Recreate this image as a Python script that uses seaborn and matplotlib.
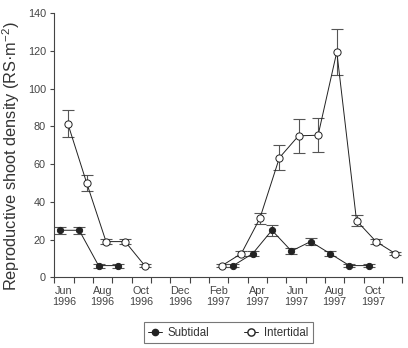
import numpy as np
import pandas as pd
import seaborn as sns
import matplotlib.pyplot as plt
from matplotlib import font_manager
from matplotlib.lines import Line2D

# Sampling dates and densities (RS per m2)
sub_dates = ['1996-06-10', '1996-07-10', '1996-08-10', '1996-09-10',
             '1997-03-09', '1997-04-09', '1997-05-09', '1997-06-09',
             '1997-07-09', '1997-08-09', '1997-09-09', '1997-10-09']
sub_vals = [25, 25, 6.3, 6.3, 6.3, 12.7, 25, 14, 19, 12.7, 6.3, 6.3]
sub_err = [1.8, 1.8, 1.1, 1.1, 1.0, 1.1, 2.8, 1.4, 1.8, 1.1, 0.8, 0.8]
sub_seg = [0, 0, 0, 0, 1, 1, 1, 1, 1, 1, 1, 1]

int_dates = ['1996-06-22', '1996-07-22', '1996-08-22', '1996-09-21', '1996-10-22',
             '1997-02-20', '1997-03-22', '1997-04-20', '1997-05-21', '1997-06-20',
             '1997-07-21', '1997-08-20', '1997-09-20', '1997-10-21', '1997-11-20']
int_vals = [81.5, 50, 19, 19, 6.3, 6.3, 12.7, 31.3, 63.4, 75, 75.3, 119.4, 30.1, 19, 12.7]
int_err = [7.1, 4, 1.4, 1.2, 1.0, 1.0, 1.5, 2.8, 6.5, 9, 9, 12, 3, 1.5, 1.0]
int_seg = [0, 0, 0, 0, 0, 1, 1, 1, 1, 1, 1, 1, 1, 1, 1]

tick_labels = ['Jun\n1996', 'Aug\n1996', 'Oct\n1996', 'Dec\n1996', 'Feb\n1997',
               'Apr\n1997', 'Jun\n1997', 'Aug\n1997', 'Oct\n1997']


def month_pos(dates):
    d = pd.to_datetime(pd.Series(dates))
    return ((d.dt.year - 1996) * 12 + d.dt.month - 6 + (d.dt.day - 1) / d.dt.days_in_month).values


df = pd.concat([
    pd.DataFrame({'month': month_pos(sub_dates), 'density': sub_vals, 'err': sub_err,
                  'seg': sub_seg, 'site': 'Subtidal'}),
    pd.DataFrame({'month': month_pos(int_dates), 'density': int_vals, 'err': int_err,
                  'seg': int_seg, 'site': 'Intertidal'}),
])

# narrow font if there is one, otherwise plain Liberation Sans
installed = {f.name for f in font_manager.fontManager.ttflist}
narrow = 'Liberation Sans Narrow' in installed
font = 'Liberation Sans Narrow' if narrow else 'Liberation Sans'
tick_fs = 8.5 if narrow else 7.8
label_fs = 11 if narrow else 11.8
legend_fs = 9 if narrow else 8.3

sns.set_style('ticks')
plt.rcParams['font.family'] = [font, 'DejaVu Sans']
plt.rcParams['mathtext.fontset'] = 'custom'
plt.rcParams['mathtext.rm'] = font
plt.rcParams['text.color'] = '#333333'
plt.rcParams['axes.labelcolor'] = '#333333'
plt.rcParams['xtick.color'] = '#444444'
plt.rcParams['ytick.color'] = '#444444'

fig = plt.figure(figsize=(4.08, 3.48), dpi=100)
ax = fig.add_axes([0.133, 0.2026, 0.853, 0.76])

line_col = '#222222'
styles = {'Subtidal': dict(markerfacecolor='#222222', markersize=4.5),
          'Intertidal': dict(markerfacecolor='white', markersize=5.2)}

for site, sub in df.groupby('site', sort=False):
    ax.errorbar(sub['month'], sub['density'], yerr=sub['err'], fmt='none',
                ecolor='#555555', elinewidth=0.8, capsize=4.3, capthick=0.8, zorder=2)
    sns.lineplot(data=sub, x='month', y='density', units='seg', estimator=None,
                 color=line_col, linewidth=0.7, marker='o', markeredgecolor='#222222',
                 markeredgewidth=0.7, ax=ax, zorder=3, **styles[site])

ax.set_xlim(0, 18)
ax.set_ylim(0, 140)
ax.set_yticks(np.arange(0, 141, 20))
ax.set_xticks(np.arange(0, 19))
ax.set_xticklabels([])
ax.set_xticks(np.arange(0.5, 18, 2), minor=True)
ax.set_xticklabels(tick_labels, minor=True)
ax.tick_params(axis='x', which='major', length=4, width=0.8, color='#444444')
ax.tick_params(axis='x', which='minor', length=0, pad=6, labelsize=tick_fs)
ax.tick_params(axis='y', length=3, width=0.8, pad=3, labelsize=tick_fs, color='#444444')
for s in ['left', 'bottom']:
    ax.spines[s].set_color('#444444')
    ax.spines[s].set_linewidth(0.8)
sns.despine(ax=ax)

ax.set_xlabel('')
ax.set_ylabel('Reproductive shoot density (RS·m$^{-2}$)', fontsize=label_fs)
ax.yaxis.set_label_coords(-0.093, 0.46)

handles = [
    Line2D([], [], color=line_col, lw=0.7, marker='o', markersize=4.5,
           markerfacecolor='#222222', markeredgecolor='#222222'),
    Line2D([], [], color=line_col, lw=0.7, marker='o', markersize=5.2,
           markerfacecolor='white', markeredgecolor='#222222'),
]
leg = ax.legend(handles, ['Subtidal', 'Intertidal'], ncol=2, loc='upper center',
                bbox_to_anchor=(0.5, -0.168), frameon=True, fancybox=False,
                edgecolor='#555555', fontsize=legend_fs, handlelength=1.2,
                columnspacing=3.0, borderpad=0.4, handletextpad=0.5,
                borderaxespad=0)
leg.get_frame().set_linewidth(0.8)

fig.savefig('out.png', dpi=100)
